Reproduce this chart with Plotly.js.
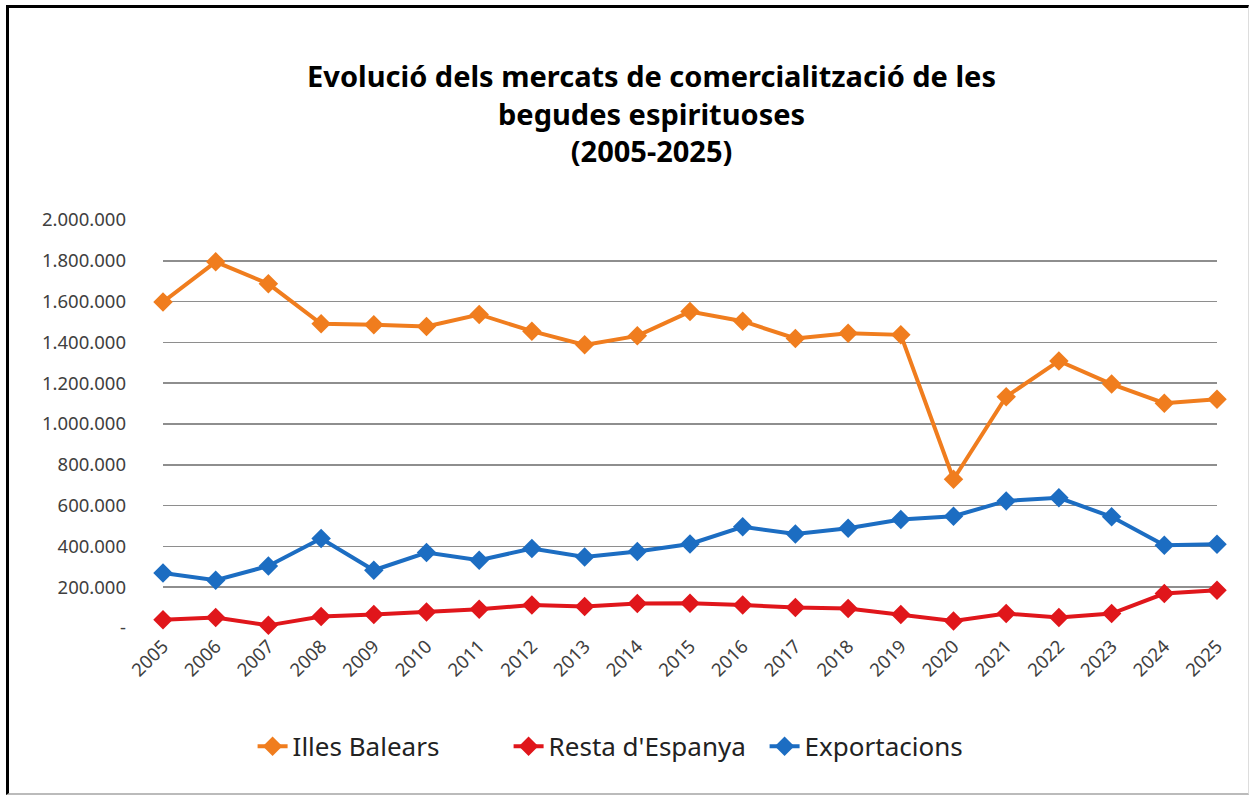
<!DOCTYPE html>
<html>
<head>
<meta charset="utf-8">
<script src="https://cdn.plot.ly/plotly-3.0.1.min.js"></script>
<style>
  html, body { margin: 0; padding: 0; background: #fff; }
  #wrap { position: relative; width: 1253px; height: 798px; }
  #chart { width: 1253px; height: 798px; }
  #frame { position: absolute; left: 6px; top: 5px; width: 1243px; height: 790px;
           border-left: 3px solid #000; border-top: 3px solid #000;
           border-right: 1px solid #ddd; border-bottom: 2px solid #bbb;
           box-sizing: border-box; pointer-events: none; }
</style>
</head>
<body>
<div id="wrap">
  <div id="chart"></div>
  <div id="frame"></div>
</div>
<script>
const years = [2005,2006,2007,2008,2009,2010,2011,2012,2013,2014,2015,2016,2017,2018,2019,2020,2021,2022,2023,2024,2025];
const illesBalears = [1598000,1795000,1687000,1491000,1487000,1478000,1537000,1455000,1388000,1432000,1551000,1504000,1419000,1445000,1437000,729000,1134000,1309000,1196000,1102000,1121000];
const restaEspanya = [41000,51000,13000,56000,66000,79000,92000,113000,106000,120000,121000,113000,100000,95000,66000,34000,71000,51000,71000,169000,185000];
const exportacions = [270000,234000,304000,439000,283000,370000,332000,390000,348000,375000,412000,496000,461000,489000,532000,548000,623000,638000,545000,406000,411000];
const yTickVals = [0,200000,400000,600000,800000,1000000,1200000,1400000,1600000,1800000,2000000];
const yTickText = ['-','200.000','400.000','600.000','800.000','1.000.000','1.200.000','1.400.000','1.600.000','1.800.000','2.000.000'];
const seriesNames = ['Illes Balears', "Resta d'Espanya", 'Exportacions'];

const colors = ['#F07D1E', '#E0161B', '#1C6DC2'];
const seriesData = [illesBalears, restaEspanya, exportacions];

const traces = seriesData.map((ys, i) => ({
  x: years, y: ys, name: seriesNames[i], type: 'scatter', mode: 'lines+markers',
  line: { color: colors[i], width: 4 },
  marker: { symbol: 'diamond', size: 15, color: colors[i] },
  cliponaxis: false
}));

const layout = {
  width: 1253, height: 798,
  paper_bgcolor: '#fff', plot_bgcolor: '#fff',
  margin: { l: 163, r: 36, t: 220, b: 170 },
  font: { family: 'Noto Sans, sans-serif', color: '#404040' },
  title: {
    text: '<b>Evolució dels mercats de comercialització de les<br>begudes espirituoses<br>(2005-2025)</b>',
    font: { family: 'Noto Sans, sans-serif', size: 29, color: '#000' },
    x: 0.52, xanchor: 'center', y: 0.891, yanchor: 'middle'
  },
  xaxis: {
    type: 'linear', range: [2005, 2025], tickvals: years, ticktext: years.map(String),
    tickangle: -45, showgrid: false, zeroline: false, showline: false, ticks: '',
    ticklabelstandoff: 3,
    tickfont: { size: 18.5, color: '#404040' }
  },
  yaxis: {
    range: [0, 2000000], tickvals: yTickVals, ticktext: yTickText,
    showgrid: true, gridcolor: '#8e8e8e', gridwidth: 1.5, zeroline: false, showline: false,
    ticks: '', ticklabelstandoff: 36,
    tickfont: { size: 18.5, color: '#404040' }
  },
  showlegend: true,
  legend: {
    orientation: 'h', x: 0.085, xanchor: 'left', y: -0.29, yanchor: 'middle',
    font: { size: 26, color: '#222' }, itemwidth: 30,
    entrywidth: 211, entrywidthmode: 'pixels'
  }
};

Plotly.newPlot('chart', traces, layout, { displayModeBar: false, staticPlot: true });
</script>
</body>
</html>
